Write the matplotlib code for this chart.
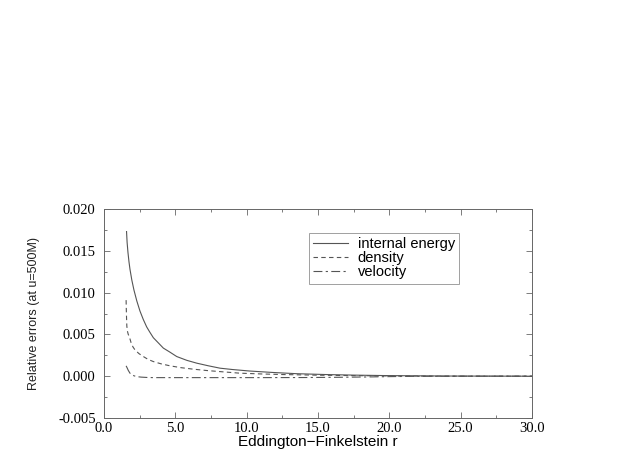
import matplotlib
matplotlib.use("Agg")
import matplotlib.pyplot as plt
from matplotlib.ticker import MultipleLocator, FormatStrFormatter

# values
r_energy = [1.58, 1.62, 1.68, 1.75, 1.82, 1.95, 2.1, 2.3, 2.52, 2.75, 2.99, 3.2, 3.46, 3.8, 4.16, 4.6,
            5.1, 5.8, 6.5, 7.3, 8.13, 9.0, 10.2, 11.8, 13.5, 15.5, 17.5, 19.5, 21.5, 24.0, 27.0, 30.0]
energy = [0.0173, 0.0160, 0.0148, 0.0137, 0.0128, 0.0115, 0.0103, 0.0090, 0.0078, 0.0068, 0.0059, 0.0053,
          0.0046, 0.0040, 0.00336, 0.0029, 0.00235, 0.0019, 0.00156, 0.00125, 0.00096, 0.0008, 0.00062,
          0.00045, 0.0003, 0.0002, 0.00013, 0.00008, 0.00005, 0.00002, 0.00001, 0.0]

r_density = [1.55, 1.56, 1.58, 1.6, 1.64, 1.7, 1.77, 1.9, 2.03, 2.17, 2.45, 2.76, 3.1, 3.46, 4.0, 4.63,
             5.4, 6.26, 7.2, 8.13, 9.53, 11.0, 12.5, 15.0, 18.0, 21.0, 25.0, 30.0]
density = [0.0091, 0.0082, 0.0070, 0.0060, 0.0054, 0.0050, 0.00475, 0.0040, 0.0035, 0.00315, 0.0027,
           0.00235, 0.0020, 0.00175, 0.00148, 0.00124, 0.00102, 0.00084, 0.00068, 0.00055, 0.00036,
           0.00027, 0.0002, 0.00012, 0.00006, 0.00002, 0.0, 0.0]

r_velocity = [1.55, 1.62, 1.7, 1.82, 1.95, 2.1, 2.29, 2.6, 3.0, 3.46, 5.0, 8.0, 11.0, 14.0, 16.5, 18.5,
              20.0, 21.5, 25.0, 30.0]
velocity = [0.00124, 0.0010, 0.0007, 0.00036, 0.00018, 0.00005, -0.00005, -0.00011, -0.00015, -0.00017,
            -0.00017, -0.00017, -0.00017, -0.00016, -0.00013, -0.00009, -0.00005, -0.00002, 0.0, 0.0]

plt.rcParams["font.family"] = ["Liberation Serif", "DejaVu Serif"]
plt.rcParams["axes.unicode_minus"] = True

fig = plt.figure(figsize=(6.23, 4.71), dpi=100)
ax = fig.add_axes([104 / 623, 1 - 418 / 471, 428 / 623, 209 / 471])

lc = "#555555"
ax.plot(r_energy, energy, color=lc, lw=0.8, ls="-", label="internal energy")
ax.plot(r_density, density, color=lc, lw=0.8, ls=(0, (4, 3)), label="density")
ax.plot(r_velocity, velocity, color=lc, lw=0.8, ls=(0, (8, 3, 2, 3)), label="velocity")

ax.set_xlim(0, 30)
ax.set_ylim(-0.005, 0.020)
ax.xaxis.set_major_locator(MultipleLocator(5))
ax.xaxis.set_minor_locator(MultipleLocator(2.5))
ax.yaxis.set_major_locator(MultipleLocator(0.005))
ax.yaxis.set_minor_locator(MultipleLocator(0.0025))
ax.xaxis.set_major_formatter(FormatStrFormatter("%.1f"))
ax.yaxis.set_major_formatter(FormatStrFormatter("%.3f"))
ax.tick_params(which="both", direction="in", top=True, right=True, color="#666666",
               width=0.6, labelsize=10.5)
ax.tick_params(which="major", length=4)
ax.tick_params(which="minor", length=2.5)
ax.tick_params(axis="x", pad=3)
ax.tick_params(axis="y", pad=6)
for s in ax.spines.values():
    s.set_color("#666666")
    s.set_linewidth(0.7)

ax.set_xlabel("Eddington\u2212Finkelstein r", fontfamily="Liberation Sans", fontsize=11, labelpad=0)
ax.set_ylabel("Relative errors (at u=500M)", fontfamily="Liberation Sans", fontsize=9,
              color="#222222", labelpad=13)

leg = ax.legend(loc="upper left", bbox_to_anchor=(205 / 428, 1 - 24 / 209), frameon=True,
                fancybox=False, prop={"family": "Liberation Sans", "size": 10.5},
                handlelength=2.4, borderpad=0.3, labelspacing=0.0, handletextpad=0.65,
                borderaxespad=0)
leg.get_frame().set_edgecolor("#888888")
leg.get_frame().set_linewidth(0.7)

fig.savefig("out.png", dpi=100)
